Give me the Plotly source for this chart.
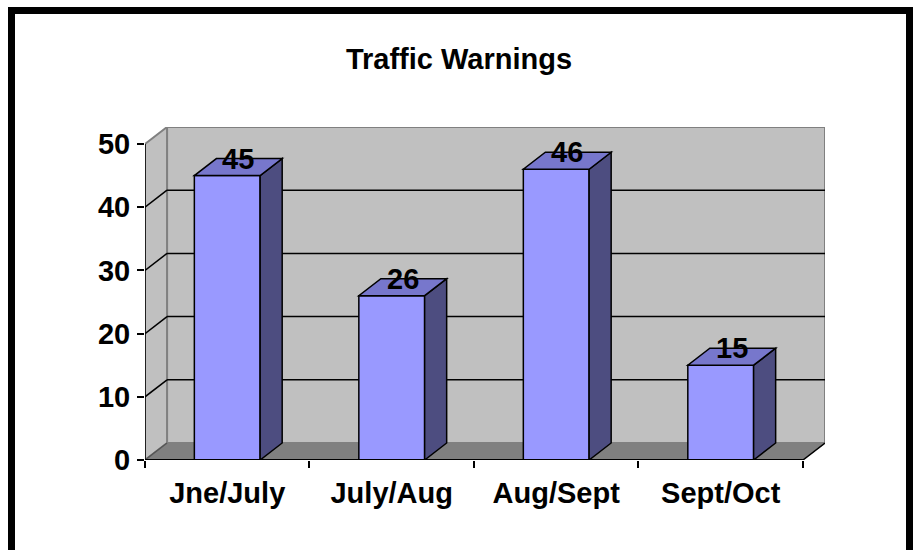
import plotly.graph_objects as go

categories = ["Jne/July", "July/Aug", "Aug/Sept", "Sept/Oct"]
values = [45, 26, 46, 15]
y_ticks = [0, 10, 20, 30, 40, 50]
title_text = "Traffic Warnings"

# 3D styling (in axis units)
DX = 0.134      # depth offset along x
DY = 2.69       # depth offset along y
HALF = 0.2      # half bar width
YMAX = 50
FONT = "Liberation Sans, Arial, sans-serif"
FS = 29
FRONT = "#9999FF"
SIDE = "#4D4D80"
TOP = "#7777CC"
WALL = "#C0C0C0"
FLOOR = "#808080"
EDGE = "#808080"

n = len(categories)
x_lo, x_hi = -0.5, n - 0.5


def poly(pts):
    return "M " + " L ".join(f"{x},{y}" for x, y in pts) + " Z"


shapes = []
# floor
shapes.append(dict(type="path", layer="below", xref="x", yref="y",
                   path=poly([(x_lo, 0), (x_hi, 0), (x_hi + DX, DY), (x_lo + DX, DY)]),
                   fillcolor=FLOOR, line=dict(color=FLOOR, width=1)))
# back wall
shapes.append(dict(type="path", layer="below", xref="x", yref="y",
                   path=poly([(x_lo + DX, DY), (x_hi + DX, DY), (x_hi + DX, YMAX + DY), (x_lo + DX, YMAX + DY)]),
                   fillcolor=WALL, line=dict(color=EDGE, width=2)))
# left side wall
shapes.append(dict(type="path", layer="below", xref="x", yref="y",
                   path=poly([(x_lo, 0), (x_lo + DX, DY), (x_lo + DX, YMAX + DY), (x_lo, YMAX)]),
                   fillcolor=WALL, line=dict(color=EDGE, width=2)))
# gridlines
for v in y_ticks[1:-1]:
    shapes.append(dict(type="line", layer="below", xref="x", yref="y",
                       x0=x_lo + DX, y0=v + DY, x1=x_hi + DX, y1=v + DY,
                       line=dict(color="black", width=1.5)))
    shapes.append(dict(type="line", layer="below", xref="x", yref="y",
                       x0=x_lo, y0=v, x1=x_lo + DX, y1=v + DY,
                       line=dict(color="black", width=1.5)))
# front axis lines
shapes.append(dict(type="line", layer="below", xref="x", yref="y",
                   x0=x_lo, y0=0, x1=x_lo + DX, y1=DY, line=dict(color="#555555", width=1.5)))
shapes.append(dict(type="line", layer="above", xref="x", yref="y",
                   x0=x_lo, y0=0, x1=x_lo, y1=YMAX, line=dict(color="black", width=1.5)))
shapes.append(dict(type="line", layer="above", xref="x", yref="y",
                   x0=x_lo, y0=0, x1=x_hi, y1=0, line=dict(color="black", width=2)))
shapes.append(dict(type="line", layer="above", xref="x", yref="y",
                   x0=x_hi, y0=0, x1=x_hi + DX, y1=DY, line=dict(color="black", width=1.5)))

# bar side and top faces
annotations = []
for i, v in enumerate(values):
    xl, xr = i - HALF, i + HALF
    shapes.append(dict(type="path", layer="above", xref="x", yref="y",
                       path=poly([(xr, 0), (xr + DX, DY), (xr + DX, v + DY), (xr, v)]),
                       fillcolor=SIDE, line=dict(color="black", width=1.5)))
    shapes.append(dict(type="path", layer="above", xref="x", yref="y",
                       path=poly([(xl, v), (xr, v), (xr + DX, v + DY), (xl + DX, v + DY)]),
                       fillcolor=TOP, line=dict(color="black", width=1.5)))
    annotations.append(dict(x=i + DX / 2, y=v + DY, xref="x", yref="y", text=str(v),
                            showarrow=False, yanchor="middle", xanchor="center",
                            font=dict(family=FONT, size=FS, color="black", weight="bold")))

# outer border of the chart area (paper coords relative to plot area)
W, H = 918, 550
ml, mr, mt, mb = 145, 93, 127, 90
pw, ph = W - ml - mr, H - mt - mb


def px2paper_x(px):
    return (px - ml) / pw


def px2paper_y(py):
    return (H - mb - py) / ph


shapes.append(dict(type="rect", layer="above", xref="paper", yref="paper",
                   x0=px2paper_x(11.5), x1=px2paper_x(909.5),
                   y0=px2paper_y(565), y1=px2paper_y(10.5),
                   line=dict(color="black", width=7), fillcolor="rgba(0,0,0,0)"))

fig = go.Figure()
fig.add_trace(go.Bar(x=list(range(n)), y=values, width=2 * HALF,
                     marker=dict(color=FRONT, line=dict(color="black", width=1.5)),
                     showlegend=False, hoverinfo="skip"))
fig.add_trace(go.Scatter(x=list(range(n)), y=values, xaxis="x2", mode="markers",
                         marker=dict(opacity=0), showlegend=False, hoverinfo="skip"))

fig.update_layout(
    width=W, height=H,
    margin=dict(l=ml, r=mr, t=mt, b=mb),
    paper_bgcolor="white", plot_bgcolor="rgba(0,0,0,0)",
    title=dict(text=title_text, x=0.5, xanchor="center", y=1 - 59 / H, yanchor="middle",
               yref="container",
               font=dict(family=FONT, size=FS, color="black", weight="bold")),
    xaxis=dict(range=[x_lo, x_hi + DX], tickvals=[i - 0.5 for i in range(n + 1)],
               showticklabels=False, ticks="outside", ticklen=7, tickwidth=1.5, tickcolor="black",
               showgrid=False, zeroline=False, showline=False, fixedrange=True),
    xaxis2=dict(range=[x_lo, x_hi + DX], overlaying="x", anchor="y", side="bottom",
                tickvals=list(range(n)), ticktext=categories, ticks="",
                ticklabelstandoff=13,
                tickfont=dict(family=FONT, size=FS, color="black", weight="bold"),
                showgrid=False, zeroline=False, showline=False, fixedrange=True),
    yaxis=dict(range=[0, YMAX + DY], tickvals=y_ticks, ticks="outside", ticklen=7,
               tickwidth=1.5, tickcolor="black", ticklabelstandoff=1,
               tickfont=dict(family=FONT, size=FS, color="black", weight="bold"),
               showgrid=False, zeroline=False, showline=False, fixedrange=True),
    shapes=shapes,
    annotations=annotations,
    showlegend=False,
)

fig.write_html("out.html", config={"displayModeBar": False},
               post_script="document.body.style.margin='0';document.body.style.overflow='hidden';")
